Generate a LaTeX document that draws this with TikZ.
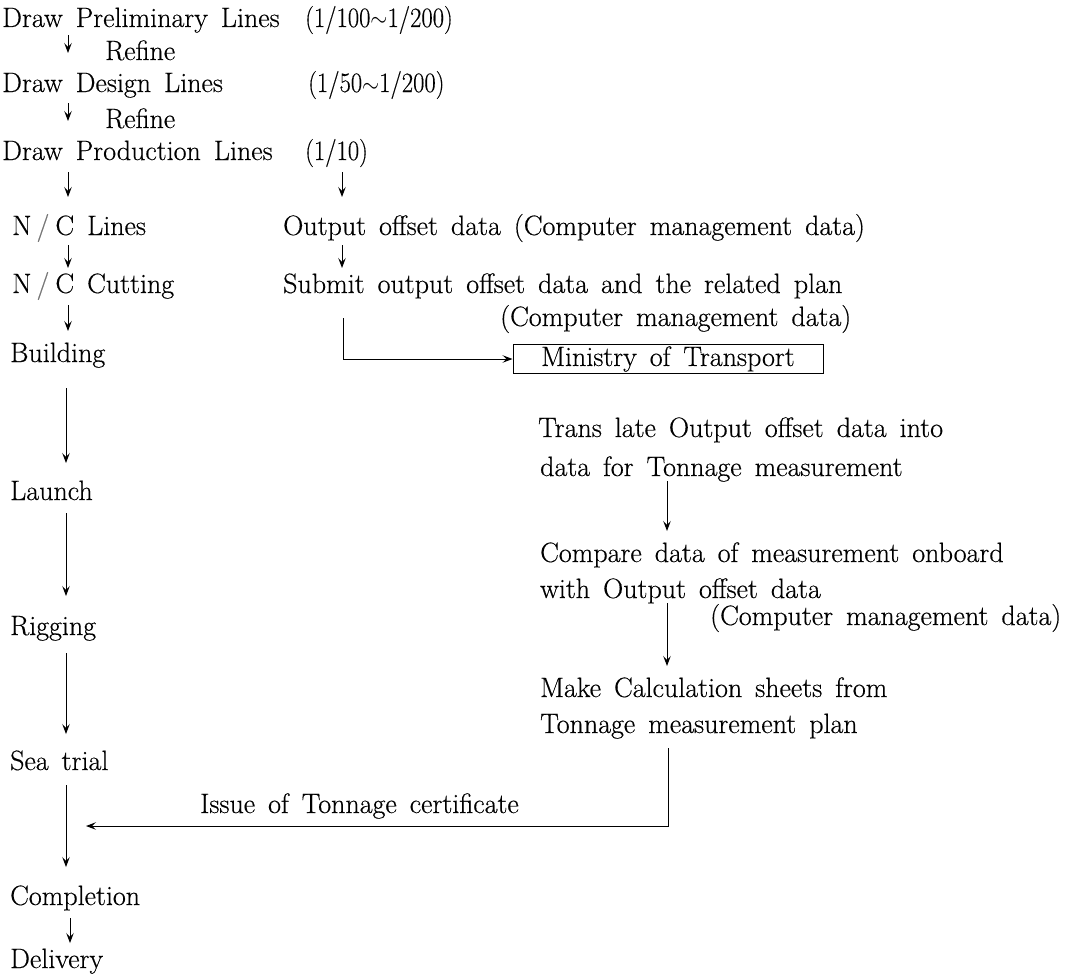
\documentclass[tikz,border=0pt]{standalone}
\usepackage{fontspec}
\setmainfont{Latin Modern Roman}[FakeBold=0.4]
\usetikzlibrary{arrows.meta}
\newcommand{\txtfont}{\fontsize{28}{33}\selectfont\spaceskip=13pt plus 1pt\relax}
\newcommand{\ncslash}{\hspace{5pt}{\color{black!55}/}\hspace{6pt}}
\newcommand{\narrow}[1]{\scalebox{0.88}[1]{#1}}
\tikzset{
  txt/.style={anchor=base west, inner sep=0pt, font=\txtfont},
  arr/.style={line width=1pt, -{Stealth[length=10pt,width=7.5pt,inset=4pt]}},
  boxed/.style={draw, line width=1pt, minimum width=310pt, minimum height=29pt, inner sep=0pt, font=\txtfont}
}
\begin{document}
\begin{tikzpicture}[x=1pt,y=-1pt]
\useasboundingbox (0,0) rectangle (1071,977);
% left column
\node[txt] (dpl) at (2,27) {Draw Preliminary Lines};
\node[txt] (s1) at (305,27) {\narrow{(1/100$\sim$1/200)}};
\node[txt] (r1) at (105,60) {Refine};
\node[txt] (ddl) at (2,92) {Draw Design Lines};
\node[txt] (s2) at (308,92) {\narrow{(1/50$\sim$1/200)}};
\node[txt] (r2) at (105,128) {Refine};
\node[txt] (dprl) at (2,160) {Draw Production Lines};
\node[txt] (s3) at (305,160) {\narrow{(1/10)}};
\node[txt] (ncl) at (12,235) {N\ncslash C Lines};
\node[txt] (ood) at (283,235) {Output offset data (Computer management data)};
\node[txt] (ncc) at (12,293) {N\ncslash C Cutting};
\node[txt] (sub) at (283,293) {Submit output offset data and the related plan};
\node[txt] (cmd1) at (500,326) {(Computer management data)};
\node[txt] (bld) at (10,362) {Building};
\node[boxed] (mot) at (668,359) {Ministry of Transport};
\node[txt] (lau) at (10,500) {Launch};
\node[txt] (rig) at (10,635) {Rigging};
\node[txt] (sea) at (10,770) {Sea trial};
\node[txt] (com) at (10,905) {Completion};
\node[txt] (del) at (10,968) {Delivery};
% right column
\node[txt] (tr1) at (538,437) {Trans late Output offset data into};
\node[txt] (tr2) at (540,476) {data for Tonnage measurement};
\node[txt] (cmp1) at (540,562) {Compare data of measurement onboard};
\node[txt] (cmp2) at (540,598) {with Output offset data};
\node[txt] (cmd2) at (710,625) {(Computer management data)};
\node[txt] (mk1) at (540,697) {Make Calculation sheets from};
\node[txt] (mk2) at (540,733) {Tonnage measurement plan};
\node[txt] (iss) at (200,813) {Issue of Tonnage certificate};
% arrow end points
\coordinate (a1s) at (68,35);  \coordinate (a1e) at (68,53);
\coordinate (a2s) at (68,103); \coordinate (a2e) at (68,121);
\coordinate (a3s) at (68,172); \coordinate (a3e) at (68,197);
\coordinate (a4s) at (68,245); \coordinate (a4e) at (68,268);
\coordinate (a5s) at (68,305); \coordinate (a5e) at (68,331);
\coordinate (b1s) at (342,172); \coordinate (b1e) at (342,197);
\coordinate (b2s) at (342,245); \coordinate (b2e) at (342,268);
\coordinate (l1s) at (66,388); \coordinate (l1e) at (66,463);
\coordinate (l2s) at (66,513); \coordinate (l2e) at (66,596);
\coordinate (l3s) at (66,653); \coordinate (l3e) at (66,734);
\coordinate (l4s) at (66,785); \coordinate (l4e) at (66,867);
\coordinate (l5s) at (70,918); \coordinate (l5e) at (70,943);
\coordinate (c1s) at (667,481); \coordinate (c1e) at (667,531);
\coordinate (c2s) at (667,603); \coordinate (c2e) at (667,666);
\coordinate (subd) at (343,318);
\coordinate (mkd) at (668,748);
\coordinate (isse) at (86,826);
% arrows
\foreach \p in {a1,a2,a3,a4,a5,b1,b2,l1,l2,l3,l4,l5,c1,c2}
  \draw[arr] (\p s) -- (\p e);
\draw[arr] (subd) |- (mot.west);
\draw[arr] (mkd) |- (isse);
\end{tikzpicture}
\end{document}
